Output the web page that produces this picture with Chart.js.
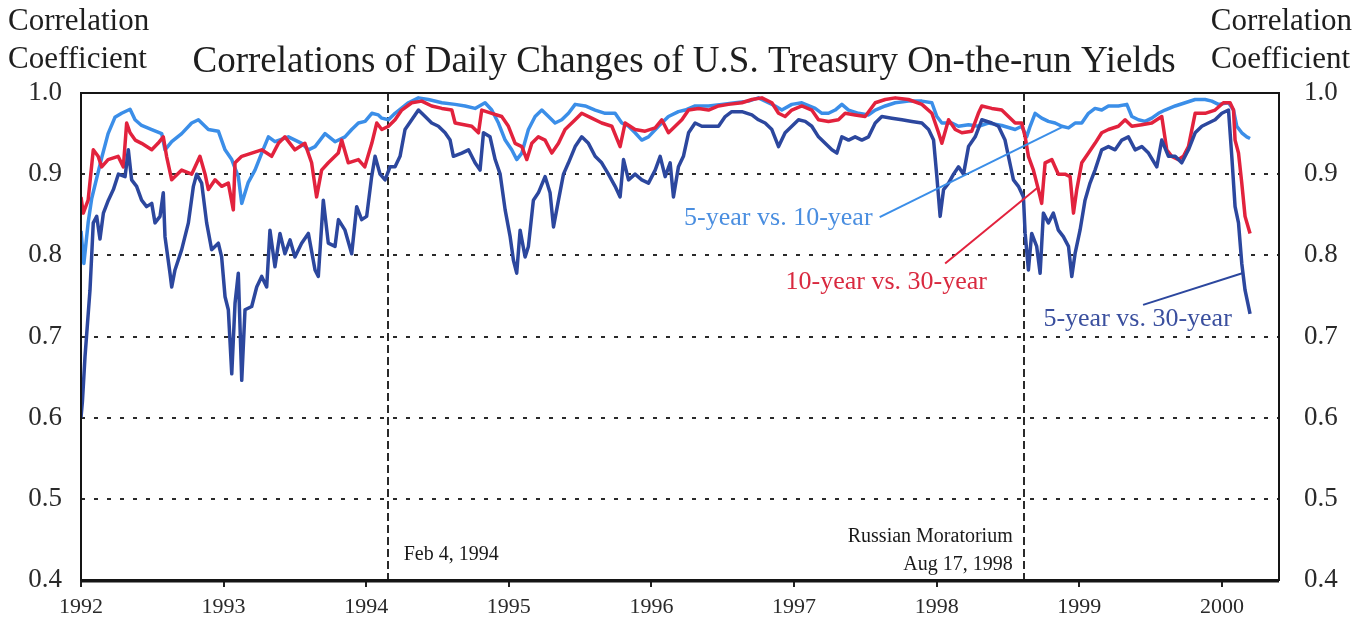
<!DOCTYPE html>
<html>
<head>
<meta charset="utf-8">
<script src="https://cdn.jsdelivr.net/npm/chart.js@4.4.0/dist/chart.umd.min.js"></script>
<style>
  html, body { margin: 0; padding: 0; background: #fff; }
  #wrap { width: 1368px; height: 625px; }
</style>
</head>
<body>
<div id="wrap"><canvas id="corrChart" width="1368" height="625"></canvas></div>
<script>
// tick labels
const yearTicks = [1992, 1993, 1994, 1995, 1996, 1997, 1998, 1999, 2000];
const valueTicks = [0.4, 0.5, 0.6, 0.7, 0.8, 0.9, 1.0];
const gridValues = [0.5, 0.6, 0.7, 0.8, 0.9];

// 5-year vs. 10-year
const t5v10 = [1992.000,1992.020,1992.050,1992.075,1992.145,1992.190,1992.238,1992.285,1992.344,1992.379,1992.425,1992.496,1992.566,1992.589,1992.636,1992.706,1992.776,1992.823,1992.893,1992.963,1993.010,1993.057,1993.103,1993.127,1993.173,1993.220,1993.267,1993.314,1993.360,1993.454,1993.548,1993.594,1993.641,1993.711,1993.781,1993.851,1993.898,1993.945,1993.992,1994.039,1994.085,1994.109,1994.156,1994.202,1994.296,1994.366,1994.436,1994.530,1994.623,1994.693,1994.763,1994.833,1994.880,1994.927,1994.974,1995.020,1995.055,1995.091,1995.137,1995.184,1995.231,1995.278,1995.324,1995.371,1995.418,1995.465,1995.535,1995.605,1995.675,1995.745,1995.792,1995.839,1995.885,1995.932,1995.979,1996.049,1996.119,1996.189,1996.236,1996.306,1996.400,1996.493,1996.587,1996.680,1996.750,1996.820,1996.867,1996.914,1996.984,1997.054,1997.148,1997.195,1997.241,1997.288,1997.335,1997.382,1997.452,1997.522,1997.569,1997.639,1997.709,1997.802,1997.896,1997.966,1998.001,1998.036,1998.106,1998.153,1998.223,1998.293,1998.362,1998.456,1998.550,1998.596,1998.631,1998.655,1998.690,1998.736,1998.783,1998.830,1998.877,1998.924,1998.970,1999.017,1999.064,1999.110,1999.157,1999.204,1999.274,1999.333,1999.368,1999.414,1999.461,1999.508,1999.555,1999.601,1999.672,1999.742,1999.812,1999.882,1999.929,1999.975,2000.046,2000.081,2000.104,2000.139,2000.174,2000.197];
const v5v10 = [0.830,0.790,0.840,0.870,0.920,0.950,0.970,0.975,0.980,0.967,0.960,0.955,0.950,0.930,0.940,0.950,0.963,0.967,0.955,0.953,0.930,0.918,0.897,0.864,0.890,0.905,0.926,0.946,0.940,0.946,0.938,0.930,0.934,0.950,0.940,0.946,0.955,0.963,0.965,0.975,0.973,0.969,0.967,0.975,0.988,0.994,0.992,0.988,0.986,0.984,0.981,0.988,0.979,0.963,0.942,0.930,0.918,0.926,0.955,0.971,0.979,0.971,0.963,0.967,0.975,0.986,0.984,0.979,0.975,0.975,0.963,0.959,0.951,0.942,0.946,0.959,0.971,0.977,0.979,0.984,0.984,0.986,0.988,0.990,0.994,0.988,0.984,0.979,0.986,0.988,0.981,0.975,0.975,0.979,0.986,0.979,0.975,0.973,0.979,0.984,0.988,0.990,0.990,0.988,0.971,0.963,0.963,0.959,0.961,0.959,0.963,0.960,0.955,0.959,0.946,0.959,0.975,0.969,0.965,0.963,0.959,0.957,0.963,0.963,0.975,0.981,0.979,0.984,0.984,0.986,0.971,0.967,0.965,0.969,0.975,0.979,0.984,0.988,0.992,0.992,0.990,0.986,0.988,0.979,0.959,0.951,0.946,0.944];

// 10-year vs. 30-year
const t10v30 = [1992.000,1992.016,1992.050,1992.086,1992.120,1992.145,1992.190,1992.260,1992.297,1992.320,1992.344,1992.380,1992.425,1992.496,1992.540,1992.577,1992.600,1992.636,1992.706,1992.776,1992.834,1992.870,1992.893,1992.940,1992.986,1993.033,1993.068,1993.080,1993.127,1993.197,1993.267,1993.337,1993.384,1993.430,1993.500,1993.570,1993.617,1993.652,1993.687,1993.734,1993.804,1993.828,1993.874,1993.945,1993.990,1994.039,1994.074,1994.109,1994.156,1994.202,1994.249,1994.319,1994.389,1994.459,1994.530,1994.600,1994.623,1994.740,1994.787,1994.810,1994.880,1994.950,1994.997,1995.044,1995.091,1995.126,1995.161,1995.207,1995.254,1995.301,1995.348,1995.394,1995.465,1995.511,1995.581,1995.651,1995.722,1995.780,1995.815,1995.885,1995.955,1996.026,1996.072,1996.119,1996.166,1996.213,1996.260,1996.330,1996.400,1996.470,1996.540,1996.634,1996.704,1996.774,1996.844,1996.891,1996.937,1996.984,1997.054,1997.124,1997.171,1997.241,1997.311,1997.358,1997.428,1997.498,1997.569,1997.639,1997.709,1997.802,1997.896,1997.966,1998.013,1998.036,1998.083,1998.130,1998.176,1998.246,1998.292,1998.316,1998.386,1998.456,1998.503,1998.550,1998.596,1998.620,1998.643,1998.678,1998.713,1998.736,1998.760,1998.807,1998.853,1998.900,1998.935,1998.959,1998.982,1999.017,1999.064,1999.110,1999.157,1999.204,1999.274,1999.321,1999.368,1999.438,1999.508,1999.578,1999.613,1999.648,1999.695,1999.730,1999.765,1999.812,1999.882,1999.952,2000.010,2000.057,2000.081,2000.092,2000.116,2000.139,2000.162,2000.197];
const v10v30 = [0.872,0.852,0.868,0.930,0.922,0.909,0.918,0.922,0.909,0.963,0.951,0.942,0.938,0.930,0.938,0.946,0.922,0.893,0.905,0.900,0.922,0.900,0.881,0.893,0.885,0.889,0.856,0.914,0.922,0.926,0.930,0.922,0.938,0.946,0.930,0.938,0.914,0.872,0.905,0.914,0.926,0.942,0.914,0.918,0.909,0.938,0.963,0.955,0.959,0.967,0.979,0.988,0.990,0.984,0.981,0.979,0.963,0.959,0.951,0.979,0.975,0.971,0.959,0.938,0.934,0.918,0.938,0.946,0.942,0.926,0.938,0.955,0.967,0.975,0.969,0.963,0.959,0.934,0.963,0.955,0.953,0.957,0.967,0.951,0.959,0.967,0.979,0.981,0.979,0.984,0.986,0.988,0.992,0.994,0.988,0.975,0.971,0.979,0.984,0.979,0.967,0.965,0.967,0.975,0.973,0.971,0.988,0.992,0.994,0.992,0.986,0.975,0.951,0.938,0.967,0.955,0.951,0.953,0.975,0.984,0.981,0.979,0.971,0.963,0.963,0.946,0.922,0.905,0.881,0.864,0.914,0.918,0.900,0.900,0.897,0.852,0.881,0.914,0.926,0.938,0.951,0.955,0.959,0.967,0.959,0.961,0.963,0.971,0.930,0.922,0.918,0.922,0.934,0.975,0.975,0.979,0.988,0.988,0.979,0.942,0.926,0.889,0.848,0.827];

// 5-year vs. 30-year
const t5v30 = [1992.000,1992.010,1992.028,1992.063,1992.086,1992.110,1992.133,1992.157,1992.192,1992.227,1992.262,1992.309,1992.332,1992.355,1992.390,1992.425,1992.460,1992.496,1992.519,1992.554,1992.577,1992.589,1992.624,1992.636,1992.659,1992.706,1992.753,1992.788,1992.811,1992.846,1992.881,1992.916,1992.963,1992.986,1993.010,1993.033,1993.057,1993.080,1993.103,1993.127,1993.150,1993.197,1993.232,1993.267,1993.302,1993.325,1993.360,1993.395,1993.430,1993.466,1993.500,1993.547,1993.594,1993.641,1993.664,1993.699,1993.734,1993.781,1993.805,1993.851,1993.898,1993.933,1993.968,1994.003,1994.038,1994.062,1994.097,1994.132,1994.167,1994.202,1994.237,1994.272,1994.319,1994.366,1994.413,1994.459,1994.506,1994.553,1994.588,1994.611,1994.670,1994.717,1994.763,1994.798,1994.822,1994.868,1994.904,1994.939,1994.974,1995.009,1995.032,1995.055,1995.079,1995.114,1995.137,1995.172,1995.207,1995.254,1995.289,1995.313,1995.348,1995.383,1995.418,1995.465,1995.511,1995.558,1995.605,1995.651,1995.698,1995.745,1995.780,1995.804,1995.839,1995.885,1995.932,1995.979,1996.026,1996.061,1996.096,1996.131,1996.154,1996.189,1996.224,1996.260,1996.306,1996.353,1996.470,1996.517,1996.563,1996.634,1996.704,1996.750,1996.797,1996.844,1996.891,1996.937,1996.984,1997.031,1997.078,1997.124,1997.171,1997.218,1997.265,1997.300,1997.335,1997.382,1997.428,1997.475,1997.522,1997.569,1997.615,1997.685,1997.756,1997.826,1997.896,1997.943,1997.978,1998.001,1998.024,1998.048,1998.083,1998.118,1998.153,1998.188,1998.223,1998.270,1998.316,1998.386,1998.433,1998.479,1998.503,1998.538,1998.573,1998.608,1998.620,1998.643,1998.666,1998.701,1998.725,1998.748,1998.783,1998.818,1998.853,1998.888,1998.924,1998.947,1998.970,1999.005,1999.040,1999.075,1999.110,1999.157,1999.204,1999.251,1999.298,1999.344,1999.391,1999.438,1999.485,1999.543,1999.578,1999.625,1999.672,1999.718,1999.765,1999.812,1999.859,1999.905,1999.952,1999.999,2000.046,2000.069,2000.092,2000.116,2000.139,2000.162,2000.186,2000.197];
const v5v30 = [0.600,0.620,0.675,0.757,0.840,0.848,0.820,0.852,0.868,0.881,0.900,0.897,0.930,0.893,0.885,0.868,0.860,0.864,0.840,0.848,0.877,0.823,0.778,0.761,0.782,0.807,0.840,0.885,0.900,0.889,0.840,0.807,0.815,0.798,0.749,0.733,0.654,0.741,0.778,0.646,0.733,0.737,0.761,0.774,0.761,0.831,0.786,0.827,0.802,0.819,0.798,0.815,0.827,0.782,0.774,0.868,0.815,0.811,0.844,0.831,0.802,0.860,0.844,0.848,0.897,0.922,0.900,0.893,0.909,0.909,0.922,0.955,0.967,0.979,0.971,0.963,0.959,0.951,0.942,0.922,0.926,0.930,0.914,0.905,0.951,0.946,0.918,0.900,0.856,0.823,0.794,0.778,0.831,0.798,0.811,0.868,0.877,0.897,0.877,0.835,0.868,0.900,0.914,0.934,0.946,0.938,0.922,0.914,0.900,0.885,0.872,0.918,0.893,0.900,0.893,0.889,0.905,0.922,0.897,0.914,0.872,0.909,0.922,0.951,0.963,0.959,0.959,0.971,0.977,0.977,0.973,0.967,0.963,0.955,0.934,0.951,0.959,0.967,0.965,0.959,0.946,0.938,0.930,0.926,0.946,0.942,0.946,0.942,0.946,0.963,0.971,0.969,0.967,0.965,0.963,0.955,0.942,0.897,0.848,0.881,0.889,0.900,0.909,0.900,0.934,0.946,0.967,0.963,0.959,0.942,0.922,0.893,0.885,0.872,0.827,0.782,0.827,0.811,0.778,0.852,0.840,0.852,0.831,0.823,0.811,0.774,0.802,0.831,0.868,0.889,0.905,0.930,0.934,0.930,0.942,0.946,0.930,0.934,0.926,0.909,0.942,0.922,0.922,0.914,0.930,0.951,0.959,0.963,0.967,0.975,0.979,0.922,0.860,0.840,0.790,0.757,0.737,0.728];

// event lines
const eventDates = [1994.15, 1998.61];

const SERIF = "'Liberation Serif', 'Times New Roman', serif";
const LIGHT = "#3b8ee8";
const RED = "#e2223d";
const DARK = "#2c479e";

function pts(t, v) {
  return t.map((x, i) => ({ x: x, y: v[i] }));
}

// series labels with leader lines (data coordinates)
const seriesNotes = [
  { text: "5-year vs. 10-year", color: "#4a8ee0", lineColor: LIGHT, at: [1997.55, 0.846], align: "right",
    from: [1997.60, 0.847], to: [1998.879, 0.958] },
  { text: "10-year vs. 30-year", color: "#d9293f", lineColor: RED, at: [1996.94, 0.767], align: "left",
    from: [1998.059, 0.790], to: [1998.711, 0.884] },
  { text: "5-year vs. 30-year", color: "#3a4f9e", lineColor: DARK, at: [1998.748, 0.721], align: "left",
    from: [1999.447, 0.739], to: [2000.142, 0.778] }
];

const decor = {
  id: "decor",
  beforeDatasetsDraw(chart) {
    const { ctx, chartArea: a, scales } = chart;
    const x = scales.x, y = scales.y;
    ctx.save();
    // dotted grid
    ctx.strokeStyle = "#2a2a2a";
    ctx.lineWidth = 2;
    ctx.setLineDash([4, 9]);
    gridValues.forEach(v => {
      const py = Math.round(y.getPixelForValue(v));
      ctx.beginPath();
      ctx.moveTo(a.left, py);
      ctx.lineTo(a.right, py);
      ctx.stroke();
    });
    // event lines
    ctx.setLineDash([8, 4]);
    eventDates.forEach(d => {
      const px = Math.round(x.getPixelForValue(d));
      ctx.beginPath();
      ctx.moveTo(px, a.top);
      ctx.lineTo(px, a.bottom);
      ctx.stroke();
    });
    ctx.setLineDash([]);
    ctx.restore();
  },
  afterDatasetsDraw(chart) {
    const { ctx, chartArea: a, scales } = chart;
    const x = scales.x, y = scales.y;
    ctx.save();
    // frame
    ctx.strokeStyle = "#151515";
    ctx.lineWidth = 2;
    ctx.strokeRect(a.left, a.top, a.right - a.left, a.bottom - a.top);
    ctx.lineWidth = 3;
    ctx.beginPath();
    ctx.moveTo(a.left, a.bottom + 1);
    ctx.lineTo(a.right, a.bottom + 1);
    ctx.stroke();

    // leader lines and series labels
    ctx.font = "26px " + SERIF;
    ctx.textBaseline = "middle";
    seriesNotes.forEach(n => {
      ctx.strokeStyle = n.lineColor;
      ctx.lineWidth = 2;
      ctx.beginPath();
      ctx.moveTo(x.getPixelForValue(n.from[0]), y.getPixelForValue(n.from[1]));
      ctx.lineTo(x.getPixelForValue(n.to[0]), y.getPixelForValue(n.to[1]));
      ctx.stroke();
      ctx.fillStyle = n.color;
      ctx.textAlign = n.align;
      ctx.fillText(n.text, x.getPixelForValue(n.at[0]), y.getPixelForValue(n.at[1]));
    });

    // event labels
    ctx.fillStyle = "#1a1a1a";
    ctx.font = "20px " + SERIF;
    const e1 = x.getPixelForValue(eventDates[0]);
    const e2 = x.getPixelForValue(eventDates[1]);
    ctx.textAlign = "left";
    ctx.fillText("Feb 4, 1994", e1 + 16, a.bottom - 25);
    ctx.textAlign = "right";
    ctx.fillText("Russian Moratorium", e2 - 11, a.bottom - 43);
    ctx.fillText("Aug 17, 1998", e2 - 11, a.bottom - 15);
    ctx.restore();
  },
  afterDraw(chart) {
    const { ctx } = chart;
    ctx.save();
    ctx.fillStyle = "#1e1e1e";
    ctx.textBaseline = "middle";
    ctx.font = "31px " + SERIF;
    ctx.textAlign = "left";
    ctx.fillText("Correlation", 8, 22);
    ctx.fillText("Coefficient", 8, 60);
    ctx.textAlign = "right";
    ctx.fillText("Correlation", 1352, 22);
    ctx.fillText("Coefficient", 1350, 60);
    ctx.textAlign = "center";
    ctx.font = "37px " + SERIF;
    ctx.fillText("Correlations of Daily Changes of U.S. Treasury On-the-run Yields", 684, 62);
    ctx.restore();
  }
};

function valueAxis(pos, width, pad) {
  return {
    type: "linear",
    position: pos,
    min: 0.4,
    max: 1.0,
    afterBuildTicks: s => { s.ticks = valueTicks.map(v => ({ value: v })); },
    afterFit: s => { s.width = width; },
    grid: { display: false, drawTicks: false },
    border: { display: false },
    ticks: {
      padding: pad,
      color: "#2a2a2a",
      font: { family: SERIF, size: 27 },
      callback: v => Number(v).toFixed(1)
    }
  };
}

new Chart(document.getElementById("corrChart"), {
  type: "line",
  data: {
    datasets: [
      { label: "5-year vs. 30-year", data: pts(t5v30, v5v30), borderColor: DARK },
      { label: "10-year vs. 30-year", data: pts(t10v30, v10v30), borderColor: RED },
      { label: "5-year vs. 10-year", data: pts(t5v10, v5v10), borderColor: LIGHT }
    ]
  },
  options: {
    responsive: false,
    animation: false,
    devicePixelRatio: 1,
    layout: { padding: { top: 93, left: 0, right: 0, bottom: 0 } },
    elements: {
      line: { borderWidth: 3.5, tension: 0, borderJoinStyle: "round" },
      point: { radius: 0 }
    },
    plugins: { legend: { display: false }, tooltip: { enabled: false } },
    scales: {
      x: {
        type: "linear",
        min: 1992,
        max: 2000.4,
        afterBuildTicks: s => { s.ticks = yearTicks.map(v => ({ value: v })); },
        afterFit: s => { s.height = 45; },
        grid: { display: true, drawOnChartArea: false, drawTicks: true, tickLength: 7, color: "#222", lineWidth: 2 },
        border: { display: false },
        ticks: {
          padding: 7,
          maxRotation: 0,
          autoSkip: false,
          color: "#2a2a2a",
          font: { family: SERIF, size: 22 },
          callback: v => String(v)
        }
      },
      y: valueAxis("left", 81, 19),
      y2: valueAxis("right", 89, 25)
    }
  },
  plugins: [decor]
});
</script>
</body>
</html>
